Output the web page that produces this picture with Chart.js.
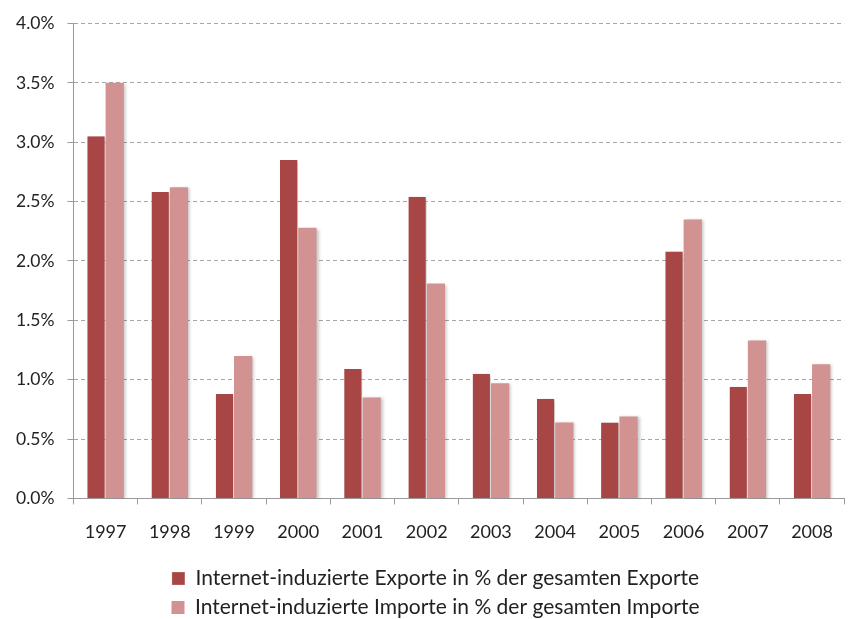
<!DOCTYPE html>
<html>
<head>
<meta charset="utf-8">
<script src="https://cdn.jsdelivr.net/npm/chart.js@4/dist/chart.umd.min.js"></script>
<style>
html,body{margin:0;padding:0;background:#fff;overflow:hidden;}
#wrap{width:850px;height:619px;position:relative;overflow:hidden;}
</style>
</head>
<body>
<div id="wrap"><canvas id="c" width="850" height="628"></canvas></div>
<script>
const categories = ["1997","1998","1999","2000","2001","2002","2003","2004","2005","2006","2007","2008"];
const exportValues = [3.05, 2.58, 0.88, 2.85, 1.09, 2.54, 1.05, 0.84, 0.64, 2.08, 0.94, 0.88];
const importValues = [3.50, 2.62, 1.20, 2.28, 0.85, 1.81, 0.97, 0.64, 0.69, 2.35, 1.33, 1.13];
const seriesNames = ["Internet-induzierte Exporte in % der gesamten Exporte", "Internet-induzierte Importe in % der gesamten Importe"];

const shadowPlugin = {
  id: 'barShadow',
  afterLayout(chart) {
    if (chart.legend) { chart.legend.left += 10; chart.legend.right += 10; }
  },
  beforeDatasetsDraw(chart) {
    const ctx = chart.ctx;
    ctx.save();
    ctx.shadowColor = 'rgba(0,0,0,0.22)';
    ctx.shadowOffsetX = 2;
    ctx.shadowOffsetY = 1;
    ctx.shadowBlur = 3;
  },
  afterDatasetsDraw(chart) {
    chart.ctx.restore();
  }
};

const FONT = "Lato, 'Open Sans', 'Liberation Sans', sans-serif";

new Chart(document.getElementById('c'), {
  type: 'bar',
  data: {
    labels: categories,
    datasets: [
      { label: seriesNames[0], data: exportValues, backgroundColor: '#A84646', borderColor: '#ffffff', borderWidth: {left:0, right:1, top:0, bottom:0}, borderSkipped: false },
      { label: seriesNames[1], data: importValues, backgroundColor: '#D39292', borderColor: '#ffffff', borderWidth: {left:0, right:0, top:0, bottom:0}, borderSkipped: false }
    ]
  },
  options: {
    responsive: false,
    animation: false,
    devicePixelRatio: 1,
    layout: { padding: { top: 3, right: 2, left: 3, bottom: 0 } },
    datasets: { bar: { categoryPercentage: 0.57, barPercentage: 1.0 } },
    plugins: {
      legend: {
        position: 'bottom',
        labels: {
          font: { family: FONT, size: 21 },
          color: '#222',
          boxWidth: 13,
          boxHeight: 13,
          padding: 8
        }
      },
      tooltip: { enabled: false }
    },
    scales: {
      x: {
        grid: { display: true, drawOnChartArea: false, drawTicks: true, tickLength: 6, color: '#9a9a9a', offset: true },
        border: { display: true, color: '#9a9a9a', width: 1 },
        ticks: { font: { family: FONT, size: 18 }, color: '#222', padding: 17 }
      },
      y: {
        min: 0, max: 4,
        grid: { display: true, color: '#a6a6a6', drawTicks: true, tickLength: 6, tickColor: '#9a9a9a' },
        border: { display: true, color: '#9a9a9a', width: 1, dash: [4,3] },
        ticks: { stepSize: 0.5, font: { family: FONT, size: 17.5 }, color: '#222', padding: 13,
          callback: v => v.toFixed(1) + '%' }
      }
    }
  },
  plugins: [shadowPlugin]
});
</script>
</body>
</html>
